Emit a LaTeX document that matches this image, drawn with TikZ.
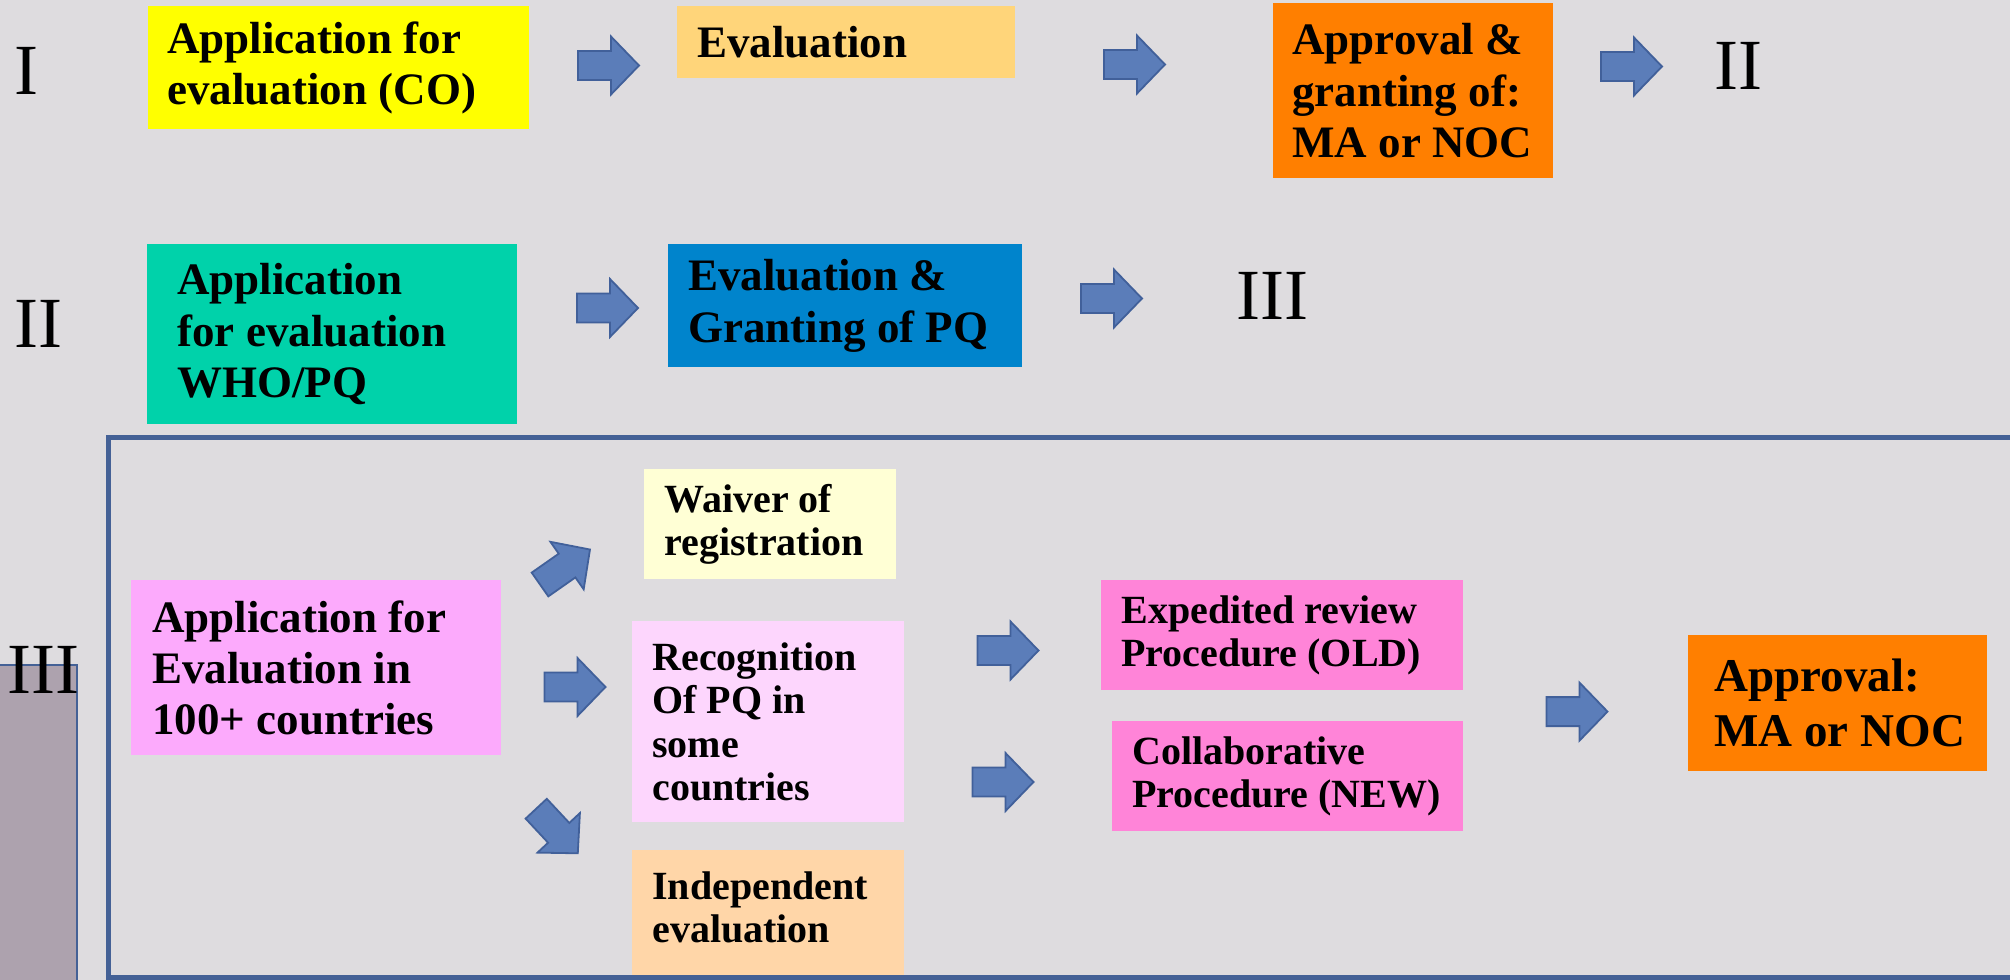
\documentclass[tikz,border=0pt]{standalone}
\usepackage{fontspec}
\setmainfont{Liberation Serif}
\definecolor{bg}{RGB}{222,220,223}
\definecolor{cyellow}{RGB}{255,255,0}
\definecolor{ceval}{RGB}{255,213,122}
\definecolor{corange}{RGB}{255,127,0}
\definecolor{cteal}{RGB}{0,210,170}
\definecolor{cblue}{RGB}{0,132,204}
\definecolor{cpink}{RGB}{252,170,252}
\definecolor{cwaiver}{RGB}{255,255,213}
\definecolor{crecog}{RGB}{253,214,253}
\definecolor{cindep}{RGB}{255,214,168}
\definecolor{cproc}{RGB}{255,132,216}
\definecolor{leftfill}{RGB}{173,162,174}
\definecolor{framecol}{RGB}{68,97,150}
\definecolor{arrfill}{RGB}{91,125,185}
\definecolor{arrline}{RGB}{65,96,154}
\tikzset{
  blockarrow/.pic={\filldraw[fill=arrfill, draw=arrline, line width=0.9pt, line join=miter]
    (-30.5,-14.5) -- (2.5,-14.5) -- (2.5,-29) -- (30.5,0) -- (2.5,29) -- (2.5,14.5) -- (-30.5,14.5) -- cycle;}
}
\begin{document}
\begin{tikzpicture}[x=0.5pt,y=-0.5pt,
  box/.style={inner sep=0pt, anchor=north west, draw=none},
  wh/.style 2 args={minimum width=#1*0.5pt, minimum height=#2*0.5pt},
  txt/.style={inner sep=0pt, anchor=west, align=left, font=\fontsize{22.5pt}{25.7pt}\selectfont\bfseries},
  smalltxt/.style={txt, font=\fontsize{20pt}{21.7pt}\selectfont\bfseries},
  bigtxt/.style={txt, font=\fontsize{23.5pt}{27.5pt}\selectfont\bfseries},
  roman/.style={inner sep=0pt, font=\fontsize{36pt}{40pt}\selectfont},
  frame/.style={draw=framecol, line width=2.5pt},
]
\useasboundingbox (0,0) rectangle (2010,980);
\clip (0,0) rectangle (2010,980);
\fill[bg] (0,0) rectangle (2010,980);

% left side block with III
\filldraw[fill=leftfill, draw=framecol, line width=1pt] (-5,665) rectangle (77,995);
\node[roman] (r3a) at (43.5,670) {III};

% roman labels
\node[roman] (r1) at (26,71) {I};
\node[roman] (r2) at (38,324) {II};
\node[roman] (r2b) at (1738,65.5) {II};
\node[roman] (r3b) at (1272.5,295.5) {III};

% Row I
\node[box, fill=cyellow, wh={381}{123}] (yel) at (148,6) {};
\node[txt] (yelT) at ([xshift=9.5pt]yel.west) {Application for\\evaluation (CO)};
\node[box, fill=ceval, wh={338}{72}] (eval) at (677,6) {};
\node[txt] (evalT) at ([xshift=10pt]eval.west) {Evaluation};
\node[box, fill=corange, wh={280}{175}] (orng) at (1273,3) {};
\node[txt] (orngT) at ([xshift=9.5pt]orng.west) {Approval \&\\granting of:\\MA or NOC};

% Row II
\node[box, fill=cteal, wh={370}{180}] (teal) at (147,244) {};
\node[txt] (tealT) at ([xshift=15pt]teal.west) {Application\\for evaluation\\WHO/PQ};
\node[box, fill=cblue, wh={354}{123}] (blue) at (668,244) {};
\node[txt] (blueT) at ([xshift=10pt]blue.west) {Evaluation \&\\Granting of PQ};

% Row III
\node[box, fill=cpink, wh={370}{175}] (pink) at (131,580) {};
\node[txt] (pinkT) at ([xshift=10.5pt]pink.west) {Application for\\Evaluation in\\100+ countries};
\node[box, fill=cwaiver, wh={252}{110}] (waiv) at (644,469) {};
\node[smalltxt] (waivT) at ([xshift=10pt]waiv.west) {Waiver of\\registration};
\node[box, fill=crecog, wh={272}{201}] (recg) at (632,621) {};
\node[smalltxt] (recgT) at ([xshift=10pt]recg.west) {Recognition\\Of PQ in\\some\\countries};
\node[box, fill=cindep, wh={272}{130}] (indp) at (632,850) {};
\node[smalltxt] (indpT) at ([xshift=10pt,yshift=4pt]indp.west) {Independent\\evaluation};
\node[box, fill=cproc, wh={362}{110}] (expd) at (1101,580) {};
\node[smalltxt] (expdT) at ([xshift=10pt]expd.west) {Expedited review\\Procedure (OLD)};
\node[box, fill=cproc, wh={351}{110}] (coll) at (1112,721) {};
\node[smalltxt] (collT) at ([xshift=10pt]coll.west) {Collaborative\\Procedure (NEW)};
\node[box, fill=corange, wh={299}{136}] (appr) at (1688,635) {};
\node[bigtxt] (apprT) at ([xshift=13pt]appr.west) {Approval:\\MA or NOC};

% block arrows
\pic at (608.5,65.5) {blockarrow};
\pic at (1134.5,64.5) {blockarrow};
\pic at (1631.5,66.5) {blockarrow};
\pic at (607.5,308) {blockarrow};
\pic at (1111.5,298.5) {blockarrow};
\pic[rotate=35] at (565,567) {blockarrow};
\pic at (575,687) {blockarrow};
\pic[rotate=-47] at (557,831) {blockarrow};
\pic at (1008,650.5) {blockarrow};
\pic at (1003,782) {blockarrow};
\pic at (1577,711.6) {blockarrow};

% frame of section III
\draw[frame] (108.5,437.5) rectangle (2060,977.5);
\end{tikzpicture}
\end{document}
